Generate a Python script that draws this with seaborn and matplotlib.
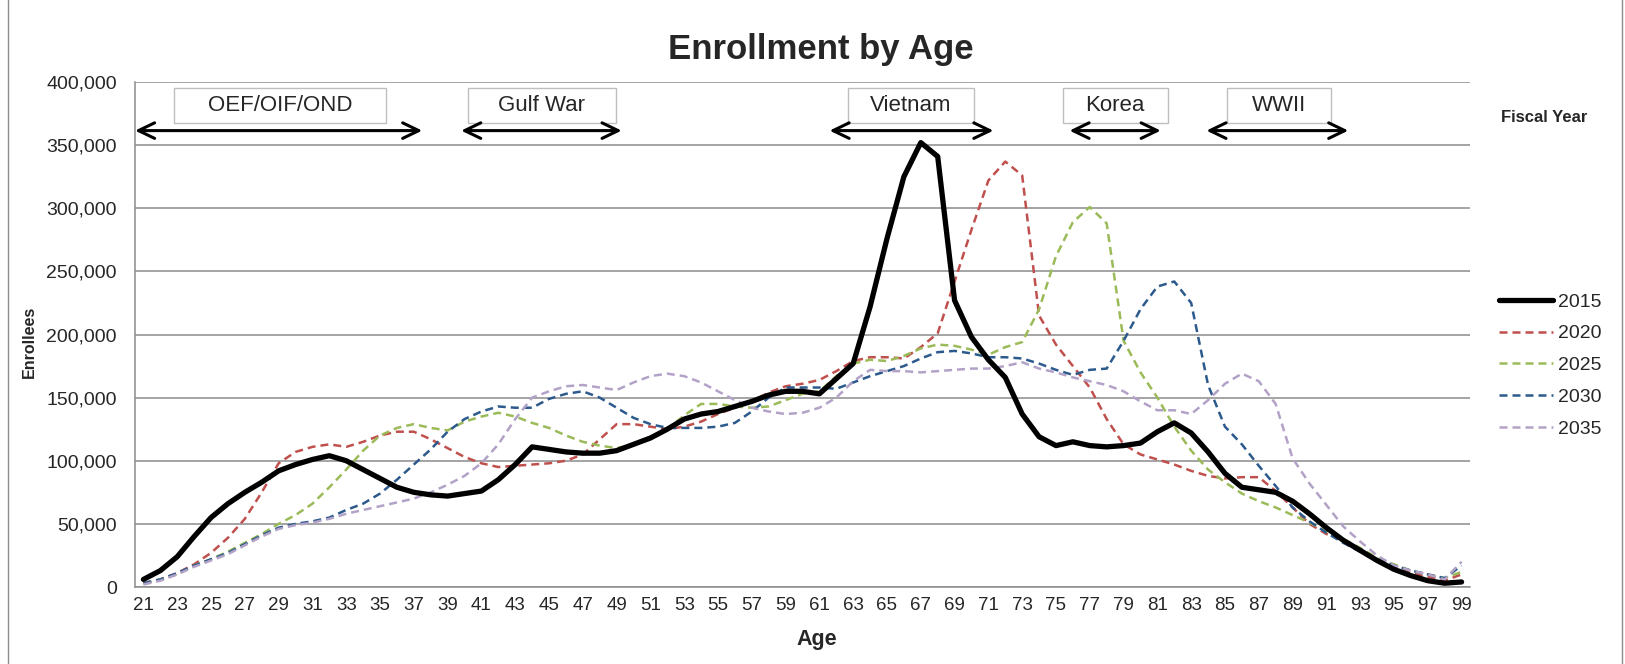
import numpy as np
import pandas as pd
import matplotlib
matplotlib.use("Agg")
import matplotlib.pyplot as plt
from matplotlib.patches import Rectangle, FancyArrowPatch
from matplotlib.ticker import FuncFormatter
import seaborn as sns

# Data (enrollees in thousands)

ages = list(range(21, 100))

fy2015 = [6, 13, 24, 40, 55, 66, 75, 83, 92, 97, 101, 104, 100, 93, 86, 79, 75, 73, 72, 74,
          76, 85, 97, 111, 109, 107, 106, 106, 108, 113, 118, 125, 133, 137, 139, 143, 147, 152, 155, 155,
          153, 165, 177, 222, 276, 325, 352, 341, 227, 198, 180, 166, 137, 119, 112, 115, 112, 111, 112, 114,
          123, 130, 122, 107, 90, 79, 77, 75, 68, 58, 47, 37, 29, 21, 14, 9, 5, 3, 4]
fy2020 = [3, 6, 11, 18, 27, 39, 54, 75, 98, 107, 111, 113, 111, 115, 120, 123, 123, 117, 110, 103,
          98, 95, 96, 97, 98, 100, 105, 117, 129, 129, 127, 125, 127, 131, 137, 142, 147, 154, 159, 161,
          164, 171, 179, 182, 182, 181, 190, 201, 242, 283, 322, 337, 326, 215, 192, 175, 158, 133, 113, 105,
          101, 97, 92, 88, 86, 87, 87, 76, 63, 50, 42, 37, 29, 21, 16, 11, 8, 5, 10]
fy2025 = [3, 6, 10, 17, 22, 28, 35, 42, 50, 57, 66, 79, 93, 108, 120, 126, 129, 126, 124, 131,
          135, 138, 135, 130, 126, 120, 115, 112, 110, 113, 119, 125, 136, 145, 145, 143, 142, 143, 148, 153,
          155, 167, 177, 180, 179, 183, 189, 192, 191, 188, 184, 190, 194, 220, 262, 289, 301, 288, 195, 170,
          150, 127, 108, 93, 83, 74, 68, 63, 57, 51, 44, 38, 31, 23, 18, 13, 10, 7, 12]
fy2030 = [3, 6, 11, 17, 22, 27, 34, 41, 47, 50, 52, 55, 61, 66, 74, 85, 97, 109, 123, 133,
          139, 143, 142, 142, 149, 153, 155, 150, 142, 134, 129, 126, 126, 126, 127, 130, 139, 150, 158, 158,
          158, 157, 162, 167, 171, 175, 181, 186, 187, 185, 182, 182, 181, 177, 172, 168, 172, 173, 195, 220,
          238, 242, 225, 160, 127, 113, 96, 80, 63, 52, 43, 35, 28, 22, 17, 13, 10, 7, 17]
fy2035 = [2, 5, 10, 16, 21, 26, 33, 40, 46, 49, 51, 54, 58, 61, 64, 67, 70, 75, 81, 88,
          98, 113, 133, 150, 155, 159, 160, 158, 156, 162, 167, 169, 167, 162, 155, 148, 142, 139, 137, 138,
          142, 150, 163, 172, 171, 171, 170, 171, 172, 173, 173, 175, 178, 173, 170, 166, 163, 160, 155, 147,
          140, 140, 137, 148, 161, 169, 163, 145, 102, 82, 65, 48, 36, 25, 17, 13, 10, 6, 20]

years = ["2015", "2020", "2025", "2030", "2035"]
values = [fy2015, fy2020, fy2025, fy2030, fy2035]

# War eras: label, box age span, arrow age span
eras = ["OEF/OIF/OND", "Gulf War", "Vietnam", "Korea", "WWII"]
era_boxes = [(22.8, 35.35), (40.2, 48.95), (62.7, 70.15), (75.4, 81.6), (85.1, 91.25)]
era_arrows = [(20.5, 37.5), (39.8, 49.3), (61.6, 71.3), (75.8, 81.2), (83.9, 92.3)]

colors = ["black", "#c0504d", "#9bbb59", "#2c5a8c", "#b3a2c7"]
widths = [3.8, 1.8, 1.8, 1.8, 1.8]
styles = ["-", (0, (3.2, 2.0)), (0, (3.2, 2.0)), (0, (3.2, 2.0)), (0, (3.2, 2.0))]

sns.set_style("white")
plt.rcParams["font.family"] = ["Liberation Sans", "DejaVu Sans"]

fig = plt.figure(figsize=(16.25, 6.64), dpi=100)
ax = fig.add_axes([135 / 1625, 77 / 664, 1335 / 1625, 505 / 664])

grid_c = "#8c8c8c"

for yr, vals, c, w, ls in zip(years, values, colors, widths, styles):
    df = pd.DataFrame({"Age": ages, "Enrollees": np.array(vals) * 1000})
    sns.lineplot(data=df, x="Age", y="Enrollees", ax=ax, color=c, lw=w,
                 linestyle=ls, label=yr, legend=False, zorder=3 if yr == "2015" else 2)

ax.set_xlim(20.5, 99.5)
ax.set_ylim(0, 400000)
ax.set_xticks(ages[::2])
ax.set_yticks(range(0, 400001, 50000))
ax.yaxis.set_major_formatter(FuncFormatter(lambda v, p: f"{int(v):,}"))
ax.yaxis.grid(True, color=grid_c, lw=1.1)
ax.xaxis.grid(False)
ax.set_axisbelow(True)
ax.tick_params(axis="x", length=0, pad=7, labelsize=13.5)
ax.tick_params(axis="y", length=0, pad=13, labelsize=14)
ax.set_xlabel("")
ax.set_ylabel("")
for s in ["top", "right"]:
    ax.spines[s].set_visible(False)
for s in ["left", "bottom"]:
    ax.spines[s].set_color(grid_c)
    ax.spines[s].set_linewidth(1.1)

# era boxes and arrows
for name, (b0, b1), (a0, a1) in zip(eras, era_boxes, era_arrows):
    ax.add_patch(Rectangle((b0, 367500), b1 - b0, 27500, facecolor="white",
                           edgecolor="#bfbfbf", lw=1, zorder=4, clip_on=False))
    ax.text((b0 + b1) / 2, 381500, name, ha="center", va="center", fontsize=16, zorder=5)
    ax.add_patch(FancyArrowPatch((a0, 361500), (a1, 361500),
                                 arrowstyle="<->,head_length=0.58,head_width=0.28",
                                 mutation_scale=20, lw=2.2, color="black",
                                 shrinkA=0, shrinkB=0, zorder=5, clip_on=False))

fig.text(821 / 1625, 1 - 49 / 664, "Enrollment by Age", ha="center", va="center",
         fontsize=25, fontweight="bold")
fig.text(29 / 1625, 1 - 342 / 664, "Enrollees", ha="center", va="center",
         rotation=90, fontsize=11.5, fontweight="bold")
fig.text(817 / 1625, 1 - 639 / 664, "Age", ha="center", va="center",
         fontsize=15.5, fontweight="bold")
fig.text(1544 / 1625, 1 - 117 / 664, "Fiscal Year", ha="center", va="center",
         fontsize=12, fontweight="bold")

ax.legend(handles=list(ax.lines[:5]), labels=years, loc="upper left",
          bbox_to_anchor=(1499 / 1625, 1 - 293 / 664), bbox_transform=fig.transFigure,
          frameon=False, fontsize=14, handlelength=2.8, handletextpad=0.25,
          labelspacing=0.73, borderpad=0, borderaxespad=0)

# outer chart frame
fig.add_artist(Rectangle((8 / 1625, -0.02), 1614 / 1625, 1.04, transform=fig.transFigure,
                         fill=False, edgecolor="#8c8c8c", lw=1))

fig.savefig("out.png", dpi=100)
